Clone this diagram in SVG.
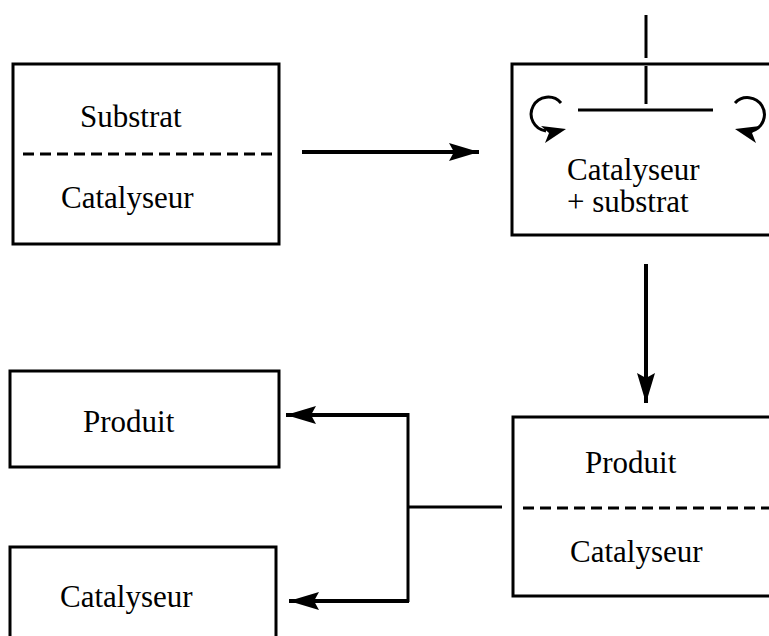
<svg xmlns="http://www.w3.org/2000/svg" width="769" height="636" viewBox="0 0 769 636">
<style>
.box{fill:none;stroke:#000;stroke-width:3}
.dash{fill:none;stroke:#000;stroke-width:3;stroke-dasharray:11 6}
.ln{fill:none;stroke:#000;stroke-width:3}
.cn{fill:none;stroke:#000;stroke-width:4}
.t{font-family:"Liberation Serif","Times New Roman",serif;font-size:31px;fill:#000}
</style>
<defs>
<marker id="ah" markerUnits="userSpaceOnUse" viewBox="0 0 30 18" refX="30" refY="9" markerWidth="30" markerHeight="18" orient="auto">
<path d="M0,0 L30,9 L0,18 L5,9 Z" fill="#000"/>
</marker>
</defs>
<rect width="769" height="636" fill="#fff"/>
<g id="n1">
<rect class="box" x="13" y="64" width="266" height="180"/>
<line class="dash" x1="23" y1="154" x2="276" y2="154"/>
<text class="t" x="80" y="127">Substrat</text>
<text class="t" x="61" y="208">Catalyseur</text>
</g>
<g id="n2">
<rect class="box" x="512" y="64" width="265" height="171"/>
<line class="ln" x1="646" y1="15" x2="646" y2="58"/>
<line class="ln" x1="646" y1="66" x2="646" y2="104"/>
<line class="ln" x1="578" y1="110" x2="713" y2="110"/>
<path class="ln" d="M561,103 A17,17 0 1 0 546,131"/>
<polygon points="566,129 541,126 549,133 545,143" fill="#000"/>
<path class="ln" d="M735,103 A17,17 0 1 1 752,131"/>
<polygon points="735,129 760,126 752,133 756,143" fill="#000"/>
<text class="t" x="567" y="180">Catalyseur</text>
<text class="t" x="567" y="212">+ substrat</text>
</g>
<g id="n3">
<rect class="box" x="513" y="417" width="265" height="179"/>
<line class="dash" x1="523" y1="508" x2="769" y2="508"/>
<text class="t" x="585" y="473">Produit</text>
<text class="t" x="570" y="562">Catalyseur</text>
</g>
<g id="n4">
<rect class="box" x="10" y="371" width="269" height="96"/>
<text class="t" x="83" y="432">Produit</text>
</g>
<g id="n5">
<rect class="box" x="10" y="547" width="266" height="100"/>
<text class="t" x="60" y="607">Catalyseur</text>
</g>
<g id="connectors">
<line class="cn" x1="302" y1="152" x2="479" y2="152" marker-end="url(#ah)"/>
<line class="cn" x1="646" y1="264" x2="646" y2="403" marker-end="url(#ah)"/>
<line class="ln" x1="408" y1="507" x2="502" y2="507"/>
<polyline class="ln" points="408,413 408,602"/>
<line class="cn" x1="409" y1="415" x2="286" y2="415" marker-end="url(#ah)"/>
<line class="cn" x1="409" y1="601" x2="289" y2="601" marker-end="url(#ah)"/>
</g>
</svg>
